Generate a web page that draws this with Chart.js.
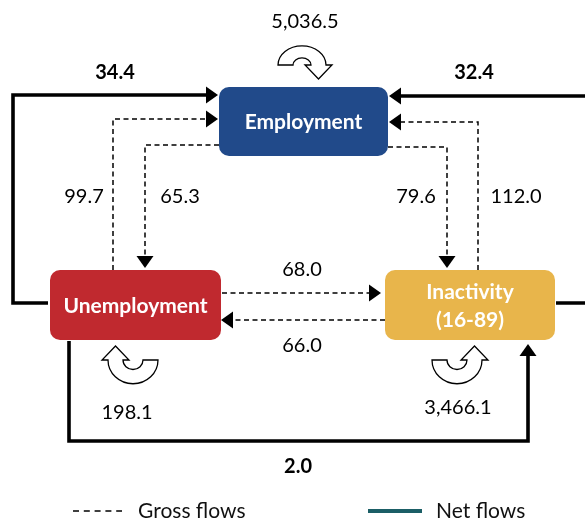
<!DOCTYPE html>
<html>
<head>
<meta charset="utf-8">
<script src="https://cdn.jsdelivr.net/npm/chart.js@4/dist/chart.umd.min.js"></script>
<style>
  html, body { margin: 0; padding: 0; background: #ffffff; }
  #wrap { width: 585px; height: 520px; }
</style>
</head>
<body>
<div id="wrap"><canvas id="c" width="585" height="520"></canvas></div>
<script>
// ---------------- DATA ----------------
const nodeKeys = ['E', 'U', 'I'];
const nodeNames = [['Employment'], ['Unemployment'], ['Inactivity', '(16-89)']];
const stayValues = [5036.5, 198.1, 3466.1];           // people staying in same state
const grossFlowKeys = ['U→E', 'E→U', 'E→I', 'I→E', 'U→I', 'I→U'];
const grossFlowValues = [99.7, 65.3, 79.6, 112.0, 68.0, 66.0];
const netFlowKeys = ['U→E', 'I→E', 'U→I'];
const netFlowValues = [34.4, 32.4, 2.0];
const legendLabels = ['Gross flows', 'Net flows'];

// ---------------- LAYOUT (diagram geometry, in a 585 x 520 frame) ----------------
const layout = {
  boxes: {
    E: { x1: 219, y1: 87, x2: 388, y2: 156 },
    U: { x1: 50, y1: 270, x2: 221, y2: 340 },
    I: { x1: 385, y1: 270, x2: 555, y2: 340 }
  },
  grossRoutes: {
    'U→E': [[113, 270], [113, 119], [218, 119]],
    'E→U': [[219, 145], [145, 145], [145, 268]],
    'E→I': [[388, 147], [447, 147], [447, 268]],
    'I→E': [[478, 270], [478, 122], [389, 122]],
    'U→I': [[222, 293], [381, 293]],
    'I→U': [[385, 320], [221, 320]]
  },
  grossLabelPos: {
    'U→E': [84, 197], 'E→U': [180, 197], 'E→I': [416, 197],
    'I→E': [516, 197], 'U→I': [302, 270], 'I→U': [302, 346]
  },
  netRoutes: {
    'U→E': [[48, 303], [13, 303], [13, 95], [218, 95]],
    'I→E': [[556, 303], [592, 303], [592, 96], [389, 96]],
    'U→I': [[69, 341], [69, 441], [528, 441], [528, 344]]
  },
  netLabelPos: { 'U→E': [115, 73], 'I→E': [474, 73], 'U→I': [298, 467] },
  loops: {
    E: { cx: 302, cy: 65, R: 24, r: 9, sy: 0.8, dir: -1, side: 1 },
    U: { cx: 133, cy: 360, R: 25, r: 10, sy: 0.95, dir: 1, side: -1 },
    I: { cx: 457, cy: 360, R: 25, r: 10, sy: 0.95, dir: 1, side: 1 }
  },
  stayLabelPos: { E: [305, 22], U: [127, 413], I: [458, 408] },
  legend: { y: 511, gross: [73, 122, 138], net: [368, 422, 436] }
};

const style = {
  nodeColors: { E: '#214A8A', U: '#C0292F', I: '#E8B54B' },
  font: 'Lato, "Open Sans", "DejaVu Sans", sans-serif',
  arrowLen: 12, arrowHalf: 8.5,
  netColor: '#000000', legendNetColor: '#1B5E66'
};

const fmt = v => v.toLocaleString('en-US', { minimumFractionDigits: 1, maximumFractionDigits: 1 });

// shorten route so the line stops at the arrowhead base
function trimRoute(route, len) {
  const pts = route.map(p => ({ x: p[0], y: p[1] }));
  const a = pts[pts.length - 2], b = pts[pts.length - 1];
  const dx = b.x - a.x, dy = b.y - a.y, d = Math.hypot(dx, dy);
  pts[pts.length - 1] = { x: b.x - dx / d * (len - 1), y: b.y - dy / d * (len - 1) };
  return pts;
}

const datasets = [];
grossFlowKeys.forEach(k => {
  datasets.push({
    label: 'gross ' + k,
    data: trimRoute(layout.grossRoutes[k], style.arrowLen),
    showLine: true, borderColor: '#000', borderWidth: 1.5,
    borderDash: [5, 3.5], pointRadius: 0, tension: 0,
    borderJoinStyle: 'miter', borderCapStyle: 'butt', clip: false
  });
});
netFlowKeys.forEach(k => {
  datasets.push({
    label: 'net ' + k,
    data: trimRoute(layout.netRoutes[k], style.arrowLen),
    showLine: true, borderColor: style.netColor, borderWidth: 3.6,
    pointRadius: 0, tension: 0,
    borderJoinStyle: 'miter', borderCapStyle: 'butt', clip: false
  });
});

function roundRect(ctx, x1, y1, x2, y2, rad) {
  ctx.beginPath();
  ctx.moveTo(x1 + rad, y1);
  ctx.lineTo(x2 - rad, y1);
  ctx.arcTo(x2, y1, x2, y1 + rad, rad);
  ctx.lineTo(x2, y2 - rad);
  ctx.arcTo(x2, y2, x2 - rad, y2, rad);
  ctx.lineTo(x1 + rad, y2);
  ctx.arcTo(x1, y2, x1, y2 - rad, rad);
  ctx.lineTo(x1, y1 + rad);
  ctx.arcTo(x1, y1, x1 + rad, y1, rad);
  ctx.closePath();
}

const diagramPlugin = {
  id: 'flowDiagram',
  afterDatasetsDraw(chart) {
    const ctx = chart.ctx;
    const X = v => chart.scales.x.getPixelForValue(v);
    const Y = v => chart.scales.y.getPixelForValue(v);
    ctx.save();

    // arrowheads
    const arrowAt = (route) => {
      const a = route[route.length - 2], b = route[route.length - 1];
      const ax = X(a[0]), ay = Y(a[1]), bx = X(b[0]), by = Y(b[1]);
      const d = Math.hypot(bx - ax, by - ay);
      const ux = (bx - ax) / d, uy = (by - ay) / d;
      const L = style.arrowLen, H = style.arrowHalf;
      ctx.beginPath();
      ctx.moveTo(bx, by);
      ctx.lineTo(bx - ux * L - uy * H, by - uy * L + ux * H);
      ctx.lineTo(bx - ux * L + uy * H, by - uy * L - ux * H);
      ctx.closePath();
      ctx.fillStyle = '#000';
      ctx.fill();
    };
    grossFlowKeys.forEach(k => arrowAt(layout.grossRoutes[k]));
    netFlowKeys.forEach(k => arrowAt(layout.netRoutes[k]));

    // boxes
    nodeKeys.forEach((k, i) => {
      const b = layout.boxes[k];
      roundRect(ctx, X(b.x1), Y(b.y1), X(b.x2), Y(b.y2), 10);
      ctx.fillStyle = style.nodeColors[k];
      ctx.fill();
      const lines = nodeNames[i];
      ctx.fillStyle = '#ffffff';
      ctx.font = 'bold 21px ' + style.font;
      ctx.textAlign = 'center';
      ctx.textBaseline = 'middle';
      const cx = (X(b.x1) + X(b.x2)) / 2, cy = (Y(b.y1) + Y(b.y2)) / 2;
      const lh = 28;
      lines.forEach((t, j) => {
        ctx.fillText(t, cx, cy + 1 + (j - (lines.length - 1) / 2) * lh);
      });
    });

    // self-loop U-turn arrows
    nodeKeys.forEach(k => {
      const L = layout.loops[k];
      const cx = X(L.cx), cy = Y(L.cy), R = L.R, r = L.r, sy = L.sy;
      const mid = (R + r) / 2, ext = 6, head = 14;
      ctx.beginPath();
      if (L.dir === -1) {
        ctx.moveTo(cx - R, cy);
        ctx.ellipse(cx, cy, R, R * sy, 0, Math.PI, 2 * Math.PI, false);
        ctx.lineTo(cx + R + ext, cy);
        ctx.lineTo(cx + mid, cy + head);
        ctx.lineTo(cx + r - ext, cy);
        ctx.lineTo(cx + r, cy);
        ctx.ellipse(cx, cy, r, r * sy, 0, 0, -Math.PI, true);
        ctx.closePath();
      } else {
        const s = L.side;
        ctx.moveTo(cx - s * R, cy);
        if (s === -1) {
          ctx.ellipse(cx, cy, R, R * sy, 0, 0, Math.PI, false);
          ctx.lineTo(cx - R - ext, cy);
          ctx.lineTo(cx - mid, cy - head);
          ctx.lineTo(cx - r + ext, cy);
          ctx.lineTo(cx - r, cy);
          ctx.ellipse(cx, cy, r, r * sy, 0, Math.PI, 0, true);
        } else {
          ctx.ellipse(cx, cy, R, R * sy, 0, Math.PI, 0, true);
          ctx.lineTo(cx + R + ext, cy);
          ctx.lineTo(cx + mid, cy - head);
          ctx.lineTo(cx + r - ext, cy);
          ctx.lineTo(cx + r, cy);
          ctx.ellipse(cx, cy, r, r * sy, 0, 0, Math.PI, false);
        }
        ctx.closePath();
      }
      ctx.fillStyle = '#ffffff';
      ctx.fill();
      ctx.lineWidth = 1.3;
      ctx.strokeStyle = '#000';
      ctx.lineJoin = 'miter';
      ctx.stroke();
    });

    // labels
    ctx.fillStyle = '#000';
    ctx.textAlign = 'center';
    ctx.textBaseline = 'middle';
    ctx.font = '20px ' + style.font;
    nodeKeys.forEach((k, i) => {
      const p = layout.stayLabelPos[k];
      ctx.fillText(fmt(stayValues[i]), X(p[0]), Y(p[1]));
    });
    grossFlowKeys.forEach((k, i) => {
      const p = layout.grossLabelPos[k];
      ctx.fillText(fmt(grossFlowValues[i]), X(p[0]), Y(p[1]));
    });
    ctx.font = 'bold 20px ' + style.font;
    netFlowKeys.forEach((k, i) => {
      const p = layout.netLabelPos[k];
      ctx.fillText(fmt(netFlowValues[i]), X(p[0]), Y(p[1]));
    });

    // legend
    const lg = layout.legend;
    const ly = Y(lg.y);
    ctx.beginPath();
    ctx.setLineDash([6, 4.8]);
    ctx.lineWidth = 1.3;
    ctx.strokeStyle = '#000';
    ctx.moveTo(X(lg.gross[0]), ly);
    ctx.lineTo(X(lg.gross[1]), ly);
    ctx.stroke();
    ctx.setLineDash([]);
    ctx.beginPath();
    ctx.lineWidth = 4;
    ctx.strokeStyle = style.legendNetColor;
    ctx.moveTo(X(lg.net[0]), ly);
    ctx.lineTo(X(lg.net[1]), ly);
    ctx.stroke();
    ctx.fillStyle = '#111';
    ctx.font = '21px ' + style.font;
    ctx.textAlign = 'left';
    ctx.fillText(legendLabels[0], X(lg.gross[2]), ly);
    ctx.fillText(legendLabels[1], X(lg.net[2]), ly);

    ctx.restore();
  }
};

new Chart(document.getElementById('c'), {
  type: 'scatter',
  data: { datasets },
  options: {
    responsive: false,
    animation: false,
    events: [],
    layout: { padding: 0 },
    plugins: { legend: { display: false }, tooltip: { enabled: false } },
    scales: {
      x: { type: 'linear', min: 0, max: 585, display: false },
      y: { type: 'linear', min: 0, max: 520, reverse: true, display: false }
    }
  },
  plugins: [diagramPlugin]
});
</script>
</body>
</html>
